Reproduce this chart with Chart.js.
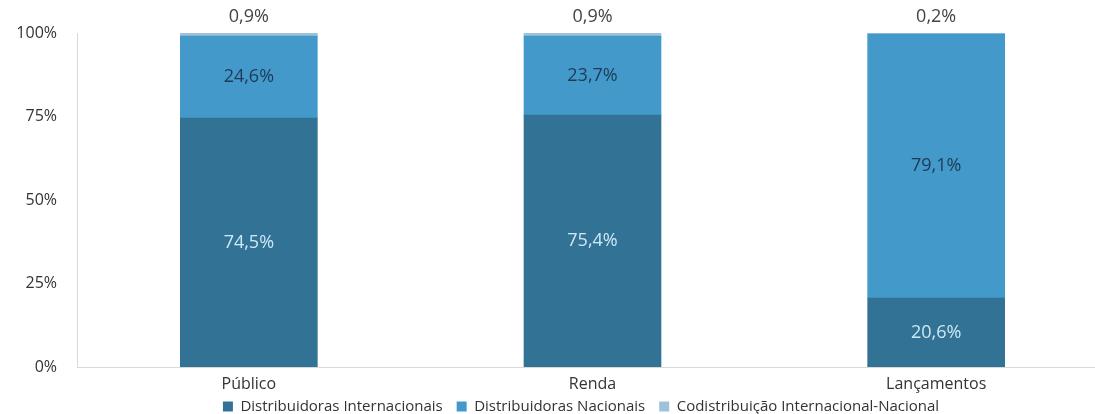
<!DOCTYPE html>
<html>
<head>
<meta charset="utf-8">
<script src="https://cdn.jsdelivr.net/npm/chart.js@4/dist/chart.umd.min.js"></script>
<style>
  html, body { margin: 0; padding: 0; overflow: hidden; background: #fff; }
  #wrap { width: 1108px; height: 414px; }
</style>
</head>
<body>
<div id="wrap"><canvas id="myChart"></canvas></div>
<script>
// categorias e valores (%)
var categorias = ['Público', 'Renda', 'Lançamentos'];
var internacionais = [74.5, 75.4, 20.6];
var nacionais = [24.6, 23.7, 79.1];
var codistribuicao = [0.9, 0.9, 0.2];
var yTicks = [0, 25, 50, 75, 100];

var fonte = '"Open Sans", Lato, sans-serif';

function fmt(v) {
  return v.toFixed(1).replace('.', ',') + '%';
}

var valueLabels = {
  id: 'valueLabels',
  afterLayout(chart) {
    // legenda sobe pra debaixo dos rotulos do eixo x, centrada em ~581px
    var lg = chart.legend;
    if (lg) {
      var h = lg.bottom - lg.top;
      lg.left = 27;
      lg.right = 1135;
      lg.top = 385;
      lg.bottom = lg.top + h;
    }
  },
  // rotulos dos valores
  afterDatasetsDraw(chart) {
    var ctx = chart.ctx;
    ctx.save();
    ctx.textAlign = 'center';
    ctx.textBaseline = 'middle';
    chart.data.datasets.forEach(function (ds, di) {
      var meta = chart.getDatasetMeta(di);
      meta.data.forEach(function (bar, i) {
        var v = ds.data[i];
        ctx.font = '18px ' + fonte;
        if (di == 2) {
          ctx.fillStyle = '#444444';
          ctx.fillText(fmt(v), bar.x, bar.y - 16);
        } else {
          ctx.fillStyle = di == 0 ? '#cfe8f6' : '#1e3a56';
          ctx.fillText(fmt(v), bar.x, (bar.y + bar.base) / 2);
        }
      });
    });
    ctx.restore();
  }
};

new Chart('myChart', {
  type: 'bar',
  data: {
    labels: categorias,
    datasets: [
      { label: 'Distribuidoras Internacionais', data: internacionais, backgroundColor: '#327395' },
      { label: 'Distribuidoras Nacionais', data: nacionais, backgroundColor: '#4499cb' },
      { label: 'Codistribuição Internacional-Nacional', data: codistribuicao, backgroundColor: '#9dc2d9' }
    ]
  },
  options: {
    responsive: true,
    maintainAspectRatio: false,
    animation: false,
    // legenda tem 39px de altura (15 + 14 + 10)
    layout: { padding: { top: 33, left: 0, right: 0, bottom: -39 } },
    datasets: { bar: { barThickness: 137 } },
    plugins: {
      legend: {
        position: 'bottom',
        labels: {
          boxWidth: 10,
          boxHeight: 10,
          padding: 14,
          color: '#333333',
          font: { family: fonte, size: 15 }
        }
      },
      tooltip: { enabled: false }
    },
    scales: {
      x: {
        stacked: true,
        afterFit: function (scale) { scale.height = 47; },
        grid: { display: false, drawTicks: false },
        border: { display: true, color: '#d9d9d9', width: 1 },
        ticks: { padding: 8, color: '#333333', font: { family: fonte, size: 16 } }
      },
      y: {
        stacked: true,
        min: 0,
        max: 100,
        afterFit: function (scale) { scale.width = 77; },
        afterBuildTicks: function (scale) {
          scale.ticks = yTicks.map(function (v) { return { value: v }; });
        },
        grid: { display: false, drawTicks: false },
        border: { display: true, color: '#d9d9d9', width: 1 },
        ticks: {
          padding: 20,
          color: '#333333',
          font: { family: fonte, size: 16 },
          callback: function (v) { return v + '%'; }
        }
      }
    }
  },
  plugins: [valueLabels]
});
</script>
</body>
</html>
